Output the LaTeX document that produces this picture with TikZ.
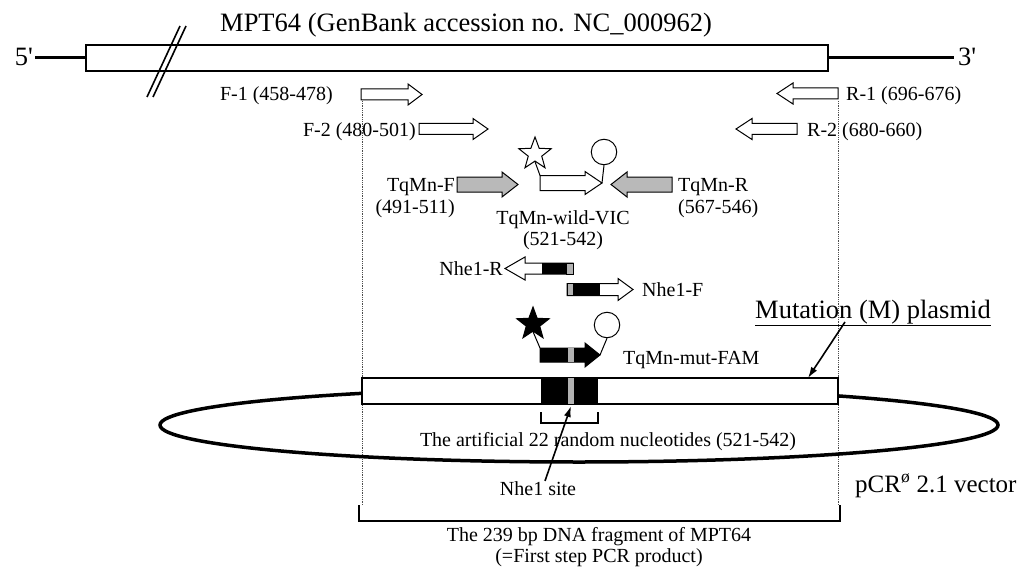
\documentclass[tikz,border=0pt]{standalone}
\usepackage{fontspec}
\setmainfont{Liberation Serif}
\usetikzlibrary{shapes.geometric,arrows.meta}

% block arrow: [style]{tail x}{head base x}{tip x}{y}{shaft half}{head half}
\newcommand{\primer}[7][]{%
  \draw[#1] (#2,#5-#6) -- (#3,#5-#6) -- (#3,#5-#7) -- (#4,#5)
    -- (#3,#5+#7) -- (#3,#5+#6) -- (#2,#5+#6) -- cycle;}

\begin{document}
\begin{tikzpicture}[x=1pt,y=-1pt,
  lab/.style={font=\fontsize{20}{22}\selectfont, inner sep=0pt},
  big/.style={font=\fontsize{26.5}{30}\selectfont, inner sep=0pt},
  hollow/.style={draw, fill=white, line width=1},
  shaded/.style={draw, fill=gray!55, line width=1},
  dark/.style={draw, fill=black, line width=1},
  guide/.style={densely dotted, line width=0.8, black!70},
  pointer/.style={-{Latex[length=11pt,width=7pt]}, line width=1.6},
  dye/.style={star, star points=5, star point ratio=2.4, draw, line width=1,
    minimum size=34pt, inner sep=0pt},
  quench/.style={circle, draw, fill=white, line width=1, minimum size=25.5pt, inner sep=0pt},
]
\useasboundingbox (0,0) rectangle (1033,567);

% gene
\node[big, anchor=base west] (title) at (220,32) {MPT64 (GenBank accession no. NC\_000962)};
\node[big, anchor=base east] (five) at (33,66) {5\textquotesingle};
\node[big, anchor=base west] (three) at (958,66) {3\textquotesingle};
\draw[line width=3] (35,58) -- (86,58);
\draw[line width=3] (828,58) -- (954,58);
\draw[line width=1.2, fill=white] (86,45) rectangle (828,71);
\draw[line width=1.6] (180,26) -- (147,97);
\draw[line width=1.6] (186,26) -- (153,97);

% guide lines and fragment
\draw[guide] (362,101) -- (362,505);
\draw[guide] (838,101) -- (838,505);
\draw[line width=2.5] (359,505) -- (359,521) -- (840,521) -- (840,505);
\node[lab, anchor=base] (fraga) at (599,541) {The 239 bp DNA fragment of MPT64};
\node[lab, anchor=base] (fragb) at (599,562) {(=First step PCR product)};

% outer primers
\primer[hollow]{361}{408}{422}{94.5}{5.5}{10.5}
\node[lab, anchor=base east] (f1lab) at (333,101) {F-1 (458-478)};
\primer[hollow]{419}{473}{488}{129}{5.5}{10.5}
\node[lab, anchor=base east] (f2lab) at (416,136) {F-2 (480-501)};
\primer[hollow]{838}{793}{777}{93.5}{5.5}{10.5}
\node[lab, anchor=base west] (r1lab) at (846,100.5) {R-1 (696-676)};
\primer[hollow]{797}{752}{736}{129}{5.5}{10.5}
\node[lab, anchor=base west] (r2lab) at (807,136) {R-2 (680-660)};

% TaqMan set, wild type
\primer[shaded]{457}{502}{518}{184.5}{7.5}{12.5}
\primer[shaded]{672}{627}{611}{184.5}{7.5}{12.5}
\primer[hollow]{540}{585}{602}{183}{7.5}{11.5}
\coordinate (victail) at (540,175.5);
\coordinate (victip) at (602,183);
\node[dye, fill=white] (vicdye) at (535,154) {};
\node[quench] (vicq) at (604,152) {};
\draw[line width=1] (vicdye.south) -- (victail);
\draw[line width=1] (vicq.south) -- (victip);
\node[lab, anchor=base east] (tqfname) at (455,191) {TqMn-F};
\node[lab, anchor=base east] (tqfpos) at (455,213) {(491-511)};
\node[lab, anchor=base west] (tqrname) at (678,191) {TqMn-R};
\node[lab, anchor=base west] (tqrpos) at (678,213) {(567-546)};
\node[lab, anchor=base] (vicname) at (563,224) {TqMn-wild-VIC};
\node[lab, anchor=base] (vicpos) at (563,245) {(521-542)};

% Nhe1 primers
\primer[hollow]{573}{525}{505}{268.5}{5.5}{11.5}
\fill (542,263) rectangle (566,274);
\draw[line width=1, fill=gray!60] (566,263) rectangle (573,274);
\node[lab, anchor=base east] (nherlab) at (503,275) {Nhe1-R};
\primer[hollow]{567}{618}{633}{289.5}{6}{11}
\fill (573,283.5) rectangle (600,295.5);
\draw[line width=1, fill=gray!60] (567,283.5) rectangle (573,295.5);
\node[lab, anchor=base west] (nheflab) at (642,296) {Nhe1-F};

% TaqMan probe, mutant
\primer[dark]{540}{585}{600}{355}{7}{12}
\fill[gray!60] (568,348) rectangle (574,362);
\coordinate (famtail) at (540,348);
\coordinate (famtip) at (600,355);
\node[dye, fill=black] (famdye) at (533,324) {};
\node[quench] (famq) at (607,325) {};
\draw[line width=1] (famdye.south) -- (famtail);
\draw[line width=1] (famq.south) -- (famtip);
\node[lab, anchor=base west] (famlab) at (623,364) {TqMn-mut-FAM};

% plasmid
\draw[line width=3.5] (579,425) ellipse [x radius=419pt, y radius=37pt];
\draw[line width=1.2, fill=white] (362,378) rectangle (838,404);
\fill (541,378) rectangle (598,404);
\fill[gray!60] (568,378) rectangle (574,404);
\draw[line width=2] (541,412) -- (541,423) -- (598,423) -- (598,412);
\node[lab, anchor=base] (artlab) at (608,446) {The artificial 22 random nucleotides (521-542)};
\node[lab, anchor=base] (sitelab) at (538,495) {Nhe1 site};
\coordinate (sitetip) at (571,406);
\draw[pointer] (sitelab.north) ++(7,0) coordinate (sitefoot) -- (sitetip);
\node[big, anchor=base west] (mutlab) at (755,318) {\underline{Mutation (M) plasmid}};
\coordinate (mutfoot) at (845,322);
\coordinate (mutend) at (808,378);
\draw[pointer] (mutfoot) -- (mutend);
\node[font=\fontsize{25}{28}\selectfont, inner sep=0pt, anchor=base west] (veclab) at (855,492) {pCR\textsuperscript{ø} 2.1 vector};
\end{tikzpicture}
\end{document}
